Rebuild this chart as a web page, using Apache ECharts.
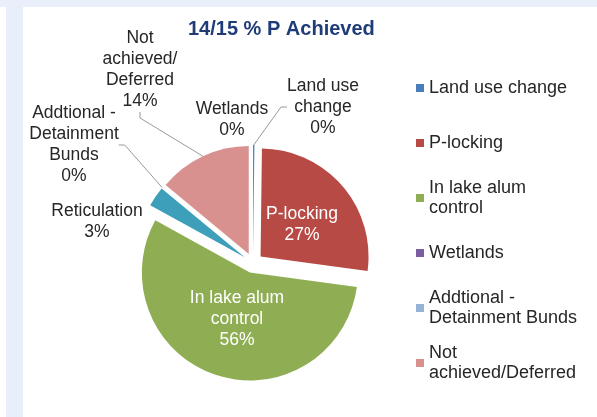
<!DOCTYPE html>
<html>
<head>
<meta charset="utf-8">
<script src="https://cdn.jsdelivr.net/npm/echarts@6/dist/echarts.min.js"></script>
<style>
  html, body { margin: 0; padding: 0; background: #ffffff; }
  #main { width: 597px; height: 417px; }
</style>
</head>
<body>
<div id="main"></div>
<script>
// Share of phosphorus reduction achieved in 14/15, by measure (percent)
const categories = [
  'Land use change',
  'P-locking',
  'In lake alum control',
  'Wetlands',
  'Reticulation',
  'Addtional - Detainment Bunds',
  'Not achieved/Deferred'
];
const shares = [0.2, 27, 56, 0, 3, 0, 14];

// Wrapped slice label names
const labelNames = [
  'Land use\nchange',
  'P-locking',
  'In lake alum\ncontrol',
  'Wetlands',
  'Reticulation',
  'Addtional -\nDetainment\nBunds',
  'Not\nachieved/\nDeferred'
];

// Legend entries and their wrapped text
const legendItems = [
  'Land use change',
  'P-locking',
  'In lake alum control',
  'Wetlands',
  'Addtional - Detainment Bunds',
  'Not achieved/Deferred'
];
const legendNames = [
  'Land use change',
  'P-locking',
  'In lake alum\ncontrol',
  'Wetlands',
  'Addtional -\nDetainment Bunds',
  'Not\nachieved/Deferred'
];

const sliceColors = ['#4a7ebb', '#b84a46', '#8fae54', '#7b5e9f', '#3e9fba', '#95b3d7', '#d8918f'];
const insideSlices = [1, 2];
const noGuideSlices = [3, 4];

// Label centres
const labelSpots = {
  0: [323, 107],
  1: [302, 225],
  2: [237, 319],
  3: [232, 120],
  4: [97, 222],
  5: [74, 145],
  6: [140, 70]
};

const chart = echarts.init(document.getElementById('main'), null, { renderer: 'canvas' });
const FONT = '"Liberation Sans", Arial, sans-serif';
const PIE_CENTER = [253, 263];
const PIE_RADIUS = 108;
const EXPLODE = 10;

const labelFormatter = p => labelNames[p.dataIndex] + '\n' + Math.round(p.percent) + '%';

// Exploded slices
const sliceData = categories.map((name, i) => ({
  name: name,
  value: shares[i],
  selected: true,
  itemStyle: { color: sliceColors[i] }
}));

// Transparent ring that carries the labels and their leader lines
const labelData = categories.map((name, i) => ({
  name: name,
  value: shares[i],
  itemStyle: { color: 'rgba(0,0,0,0)' },
  label: { color: insideSlices.includes(i) ? '#ffffff' : '#262626' },
  labelLine: { show: !insideSlices.includes(i) && !noGuideSlices.includes(i) }
}));

const legendData = legendItems.map((name, i) => ({
  name: name,
  itemStyle: { color: sliceColors[categories.indexOf(name)] },
  textStyle: {
    padding: legendNames[i].includes('\n') ? [20, 0, 0, 0] : [20, 0, 20, 0]
  }
}));

chart.setOption({
  animation: false,
  backgroundColor: '#ffffff',
  graphic: [
    { type: 'rect', left: 0, top: 0, shape: { width: 597, height: 7 }, style: { fill: '#e9f0fb' }, silent: true },
    { type: 'rect', left: 6, top: 0, shape: { width: 17, height: 417 }, style: { fill: '#e8effb' }, silent: true }
  ],
  title: {
    text: '14/15 % P Achieved',
    left: 188,
    top: 19,
    padding: 0,
    textStyle: { fontFamily: FONT, fontSize: 20, fontWeight: 'bold', color: '#1f3c78' }
  },
  legend: {
    orient: 'vertical',
    left: 416,
    top: 58,
    padding: 0,
    itemGap: -5,
    itemWidth: 8,
    itemHeight: 8,
    icon: 'rect',
    selectedMode: false,
    data: legendData,
    formatter: name => legendNames[legendItems.indexOf(name)],
    textStyle: { fontFamily: FONT, fontSize: 18, lineHeight: 20, color: '#262626' }
  },
  series: [
    {
      type: 'pie',
      center: PIE_CENTER,
      radius: PIE_RADIUS,
      startAngle: 90,
      clockwise: true,
      selectedMode: 'multiple',
      selectedOffset: EXPLODE,
      silent: true,
      label: { show: false },
      labelLine: { show: false },
      itemStyle: { borderWidth: 0 },
      select: { itemStyle: { borderWidth: 0 } },
      data: sliceData
    },
    {
      type: 'pie',
      center: PIE_CENTER,
      radius: PIE_RADIUS + EXPLODE,
      startAngle: 90,
      clockwise: true,
      avoidLabelOverlap: false,
      silent: true,
      z: 3,
      label: {
        fontFamily: FONT,
        fontSize: 17.5,
        lineHeight: 21,
        align: 'center',
        formatter: labelFormatter
      },
      labelLine: {
        length: 10,
        length2: 6,
        lineStyle: { color: '#9a9a9a', width: 1 }
      },
      labelLayout: params => {
        const spot = labelSpots[params.dataIndex];
        if (!spot) return {};
        return { x: spot[0], y: spot[1], align: 'center', verticalAlign: 'middle' };
      },
      data: labelData
    }
  ]
});
</script>
</body>
</html>
